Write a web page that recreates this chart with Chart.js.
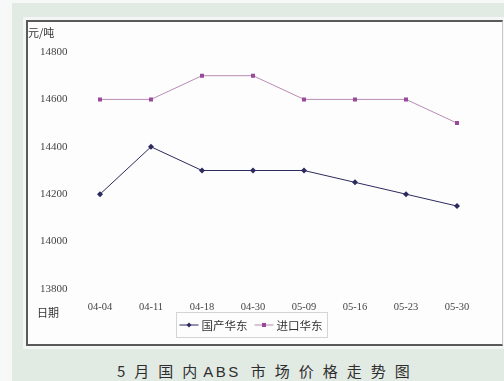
<!DOCTYPE html>
<html>
<head>
<meta charset="utf-8">
<script src="https://cdn.jsdelivr.net/npm/chart.js@4.4.1/dist/chart.umd.min.js"></script>
<style>
  html, body { margin: 0; padding: 0; }
  body { width: 504px; height: 381px; background: #f6f9f7; position: relative; overflow: hidden; }
  #frame { position: absolute; left: 12px; top: 3px; right: 0; bottom: 0; background: #e2eae4; }
  #panel {
    position: absolute; left: 26px; top: 20px; width: 474px; height: 322px;
    background: #fdfdfd;
    border-top: 2px solid #5a5a5a; border-left: 2px solid #5a5a5a; border-bottom: 2px solid #5a5a5a;
    border-right: 1px solid #c8c8c8;
    box-shadow: 0 0 0 3px #f3f6f4;
  }
  #wrap { position: absolute; left: 28px; top: 22px; width: 472px; height: 320px; }
  #title {
    position: absolute; left: 117px; top: 363px; white-space: nowrap;
    font-family: "Noto Sans CJK SC", "Noto Sans", sans-serif; font-size: 15px; line-height: 16px;
    color: #2e2e2e; letter-spacing: 9px;
  }
  #title .lat { letter-spacing: 2.5px; margin-left: -3px; margin-right: 10px; font-family: "Liberation Sans", Arial, sans-serif; }
</style>
</head>
<body>
<div id="frame"></div>
<div id="panel"></div>
<div id="wrap"><canvas id="c" width="472" height="320"></canvas></div>
<div id="title">5月国内<span class="lat">ABS</span>市场价格走势图</div>
<script>
// Weekly ABS prices, East China (yuan per tonne)
const dates = ["04-04", "04-11", "04-18", "04-30", "05-09", "05-16", "05-23", "05-30"];
const domesticEast = [14200, 14400, 14300, 14300, 14300, 14250, 14200, 14150];
const importEast = [14600, 14600, 14700, 14700, 14600, 14600, 14600, 14500];
const seriesNames = ["国产华东", "进口华东"];
const yTicks = [13800, 14000, 14200, 14400, 14600, 14800];
const unitLabel = "元/吨";
const axisLabel = "日期";

const domesticColor = "#2c2a5e";
const importLine = "#b98ab6";
const importPoint = "#99489a";

// Unit, axis name and the boxed legend under the axis
const annotations = {
  id: "annotations",
  afterDraw(chart) {
    const ctx = chart.ctx;
    ctx.save();
    ctx.fillStyle = "#333";
    ctx.textBaseline = "middle";
    ctx.textAlign = "left";
    ctx.font = '11px "Noto Sans CJK SC", sans-serif';
    ctx.fillText(unitLabel, 0, 11);
    ctx.fillText(axisLabel, 9, 291);

    // legend
    ctx.font = '11.5px "Noto Sans CJK SC", sans-serif';
    const lineW = 19, gapText = 3, gapItem = 7;
    const widths = seriesNames.map(n => ctx.measureText(n).width);
    const total = widths.reduce((a, w) => a + lineW + gapText + w, 0) + gapItem * (seriesNames.length - 1);
    const cx = 223, cy = 303;
    let x = cx - total / 2;
    const left = x - 4, right = x + total + 4;
    chart.data.datasets.forEach((ds, i) => {
      ctx.strokeStyle = ds.borderColor;
      ctx.lineWidth = 1;
      ctx.beginPath();
      ctx.moveTo(x, cy); ctx.lineTo(x + lineW, cy);
      ctx.stroke();
      ctx.fillStyle = ds.pointBackgroundColor;
      const mx = x + lineW / 2;
      ctx.beginPath();
      if (ds.pointStyle === "rectRot") {
        ctx.moveTo(mx, cy - 2.5); ctx.lineTo(mx + 2.5, cy); ctx.lineTo(mx, cy + 2.5); ctx.lineTo(mx - 2.5, cy);
        ctx.closePath();
      } else {
        ctx.rect(mx - 2, cy - 2, 4, 4);
      }
      ctx.fill();
      ctx.fillStyle = "#333";
      ctx.fillText(seriesNames[i], x + lineW + gapText, cy + 0.5);
      x += lineW + gapText + widths[i] + gapItem;
    });
    ctx.strokeStyle = "#d4d4d4";
    ctx.lineWidth = 1;
    ctx.strokeRect(Math.round(left) + 0.5, cy - 12.5, Math.round(right - left), 25);
    ctx.restore();
  }
};

new Chart(document.getElementById("c"), {
  type: "line",
  data: {
    labels: dates,
    datasets: [
      {
        label: seriesNames[0], data: domesticEast,
        borderColor: domesticColor, borderWidth: 1,
        pointStyle: "rectRot", pointRadius: 3,
        pointBackgroundColor: domesticColor, pointBorderColor: domesticColor, pointBorderWidth: 0,
        tension: 0
      },
      {
        label: seriesNames[1], data: importEast,
        borderColor: importLine, borderWidth: 1,
        pointStyle: "rect", pointRadius: 2.8,
        pointBackgroundColor: importPoint, pointBorderColor: importPoint, pointBorderWidth: 0,
        tension: 0
      }
    ]
  },
  options: {
    responsive: false,
    animation: false,
    devicePixelRatio: 1,
    layout: { padding: { left: 0, right: 17.5, top: 30, bottom: 0 } },
    plugins: { legend: { display: false }, tooltip: { enabled: false }, title: { display: false } },
    scales: {
      x: {
        offset: true,
        grid: { display: false, drawTicks: false },
        border: { display: false },
        ticks: { padding: 12, color: "#444", font: { family: '"Liberation Serif", serif', size: 10.5 }, maxRotation: 0 },
        afterFit(scale) { scale.height = 53; }
      },
      y: {
        min: 13800, max: 14800,
        grid: { display: false, drawTicks: false },
        border: { display: false },
        afterBuildTicks(scale) { scale.ticks = yTicks.map(v => ({ value: v })); },
        ticks: {
          padding: 7, color: "#444",
          font: { family: '"Liberation Serif", serif', size: 11 },
          callback: v => String(v)
        },
        afterFit(scale) { scale.width = 46.5; }
      }
    }
  },
  plugins: [annotations]
});
</script>
</body>
</html>
